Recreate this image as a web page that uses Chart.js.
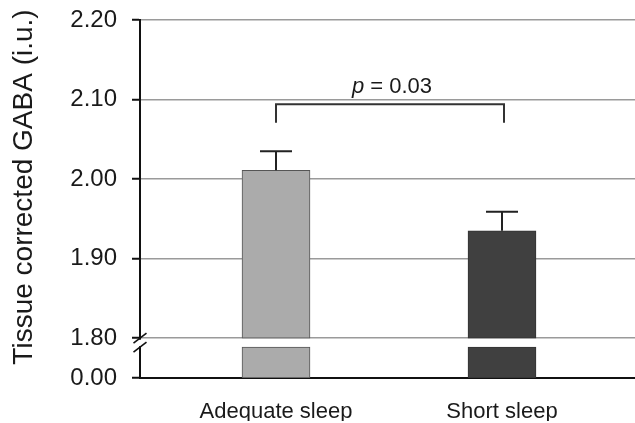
<!DOCTYPE html>
<html>
<head>
<meta charset="utf-8">
<script src="https://cdn.jsdelivr.net/npm/chart.js@4/dist/chart.umd.min.js"></script>
<style>
  html, body { margin: 0; padding: 0; background: #fff; }
  #wrap { width: 635px; height: 423px; position: relative; }
</style>
</head>
<body>
<div id="wrap"><canvas id="c" width="635" height="423"></canvas></div>
<script>
// ---- data ----
const categories = ['Adequate sleep', 'Short sleep'];
const means = [2.011, 1.935];
const sems = [0.024, 0.024];
const tickValues = [0.00, 1.80, 1.90, 2.00, 2.10, 2.20];
const tickLabels = ['0.00', '1.80', '1.90', '2.00', '2.10', '2.20'];
const yTitle = 'Tissue corrected GABA (i.u.)';
const pLabel = ['p', ' = 0.03'];
const bracketValue = [2.094, 2.071]; // bracket top, leg bottom
const pTextValue = 2.108;

// ---- axis break mapping (0.00 is drawn just below the 1.80 break) ----
const BREAK_HIGH = 1.80;
const AXIS_ZERO_POS = 1.75;
const BREAK_LOW_POS = 1.78875;
const toAxis = v => (v < BREAK_HIGH ? AXIS_ZERO_POS : v);

const FONT = '"Liberation Sans", Arial, sans-serif';
const colors = ['#ababab', '#404040'];

const upper = categories.map((c, i) => ({ x: i + 1, y: [BREAK_HIGH, means[i]] }));
const lower = categories.map((c, i) => ({ x: i + 1, y: [toAxis(0), BREAK_LOW_POS] }));

const extras = {
  id: 'extras',
  afterDatasetsDraw(chart) {
    const ctx = chart.ctx;
    const xs = chart.scales.x, ys = chart.scales.y;
    ctx.save();
    // error bars (upper only)
    ctx.strokeStyle = '#222';
    ctx.lineWidth = 2;
    means.forEach((m, i) => {
      const x = xs.getPixelForValue(i + 1);
      const yb = ys.getPixelForValue(m);
      const yt = ys.getPixelForValue(m + sems[i]);
      ctx.beginPath();
      ctx.moveTo(x, yb); ctx.lineTo(x, yt);
      ctx.moveTo(x - 16, yt); ctx.lineTo(x + 16, yt);
      ctx.stroke();
    });
    // significance bracket
    const x1 = xs.getPixelForValue(1), x2 = xs.getPixelForValue(2) + 2;
    const yTop = ys.getPixelForValue(bracketValue[0]);
    const yLeg = ys.getPixelForValue(bracketValue[1]);
    ctx.strokeStyle = '#333';
    ctx.beginPath();
    ctx.moveTo(x1, yLeg); ctx.lineTo(x1, yTop); ctx.lineTo(x2, yTop); ctx.lineTo(x2, yLeg);
    ctx.stroke();
    // p label
    ctx.fillStyle = '#1a1a1a';
    ctx.textBaseline = 'alphabetic';
    const fi = 'italic 22px ' + FONT, fn = '22px ' + FONT;
    ctx.font = fi; const w1 = ctx.measureText(pLabel[0]).width;
    ctx.font = fn; const w2 = ctx.measureText(pLabel[1]).width;
    const cx = (x1 + x2) / 2 + 2;
    const ty = ys.getPixelForValue(pTextValue);
    let sx = cx - (w1 + w2) / 2;
    ctx.textAlign = 'left';
    ctx.font = fi; ctx.fillText(pLabel[0], sx, ty);
    ctx.font = fn; ctx.fillText(pLabel[1], sx + w1, ty);
    ctx.restore();
  },
  afterDraw(chart) {
    const ctx = chart.ctx;
    const ys = chart.scales.y;
    const ax = chart.chartArea.left;
    const yA = ys.getPixelForValue(BREAK_HIGH);
    const yB = ys.getPixelForValue(BREAK_LOW_POS);
    ctx.save();
    // gap in the axis line
    ctx.fillStyle = '#fff';
    ctx.fillRect(ax - 3, yA + 1.5, 6, yB - yA - 2.5);
    // break slashes
    ctx.strokeStyle = '#111';
    ctx.lineWidth = 1.6;
    [yA, yB].forEach(y => {
      ctx.beginPath();
      ctx.moveTo(ax - 6.5, y + 5);
      ctx.lineTo(ax + 6.5, y - 5);
      ctx.stroke();
    });
    // y title
    ctx.fillStyle = '#1a1a1a';
    ctx.font = '28px ' + FONT;
    ctx.textAlign = 'center';
    ctx.textBaseline = 'middle';
    ctx.translate(24, 187);
    ctx.rotate(-Math.PI / 2);
    ctx.fillText(yTitle, 0, 0);
    ctx.restore();
  }
};

new Chart(document.getElementById('c'), {
  type: 'bar',
  data: {
    datasets: [
      { data: upper, backgroundColor: colors, borderColor: ['#555', '#333'], borderWidth: 1,
        borderSkipped: false, grouped: false, barThickness: 68 },
      { data: lower, backgroundColor: colors, borderColor: ['#555', '#333'], borderWidth: 1,
        borderSkipped: false, grouped: false, barThickness: 68 }
    ]
  },
  options: {
    responsive: false,
    animation: false,
    events: [],
    layout: { padding: { left: 0, right: 0, top: 20, bottom: 2 } },
    plugins: { legend: { display: false }, tooltip: { enabled: false } },
    scales: {
      x: {
        type: 'linear',
        offset: false,
        grace: 0,
        min: 0.3982,
        max: 2.5885,
        afterBuildTicks: s => { s.ticks = categories.map((c, i) => ({ value: i + 1 })); },
        afterFit: s => { s.height = 43; s.paddingLeft = 0; s.paddingRight = 0; },
        ticks: {
          callback: v => categories[v - 1],
          font: { family: FONT, size: 22 },
          color: '#1a1a1a',
          padding: 13,
          maxRotation: 0,
          autoSkip: false
        },
        grid: { display: false },
        border: { display: true, color: '#111', width: 2 }
      },
      y: {
        min: AXIS_ZERO_POS,
        max: 2.20,
        afterBuildTicks: s => { s.ticks = tickValues.map(v => ({ value: toAxis(v) })); },
        afterFit: s => { s.width = 140; s.paddingTop = 0; s.paddingBottom = 0; },
        ticks: {
          callback: (v, i) => tickLabels[i],
          font: { family: FONT, size: 24 },
          color: '#1a1a1a',
          padding: 15,
          autoSkip: false
        },
        grid: {
          color: c => (c.tick && c.tick.value === AXIS_ZERO_POS ? 'rgba(0,0,0,0)' : '#9a9a9a'),
          lineWidth: 1.5,
          tickColor: '#111',
          tickWidth: 2,
          tickLength: 8
        },
        border: { display: true, color: '#111', width: 2 }
      }
    }
  },
  plugins: [extras]
});
</script>
</body>
</html>
